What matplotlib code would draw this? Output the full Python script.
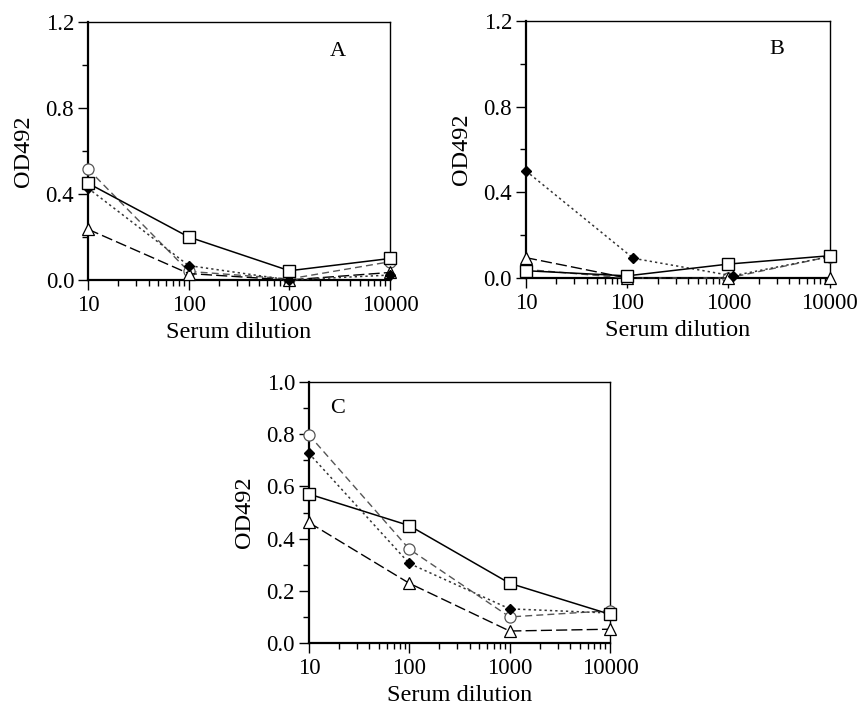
import numpy as np
import matplotlib.pyplot as plt

plt.rcParams['font.family'] = ['Liberation Serif', 'DejaVu Serif']

dilution = [10, 100, 1000, 10000]

# panel A
a_square = [0.45, 0.20, 0.043, 0.10]
a_circle = [0.516, 0.04, 0.005, 0.085]
a_diamond = [0.427, 0.067, 0.0, 0.023]
a_triangle = [0.236, 0.03, 0.0, 0.035]

# panel B
b_square = [0.034, 0.01, 0.065, 0.104]
b_circle = [0.04, 0.0, 0.0, 0.10]
b_diamond = [0.50, 0.092, 0.01, 0.10]
b_diamond_x = [10, 115, 1100, 10000]
b_triangle = [0.095, 0.0, 0.0, 0.0]

# panel C
c_square = [0.571, 0.45, 0.229, 0.11]
c_circle = [0.798, 0.36, 0.10, 0.124]
c_diamond = [0.727, 0.305, 0.131, 0.115]
c_triangle = [0.462, 0.229, 0.046, 0.053]

fig = plt.figure(figsize=(8.58, 7.11), dpi=100)

axA = fig.add_axes([0.1026, 0.6062, 0.352, 0.3629])
axB = fig.add_axes([0.613, 0.609, 0.354, 0.3615])
axC = fig.add_axes([0.360, 0.0956, 0.351, 0.367])


def draw(ax, sq, ci, di, tr, dx=dilution):
    ax.plot(dilution, ci, color='#555555', ls=(0, (5, 3)), lw=1,
            marker='o', ms=8, mfc='white', mec='#555555', mew=0.9, zorder=3)
    ax.plot(dx, di, color='#333333', ls=(0, (1.5, 2)), lw=1.1,
            marker='D', ms=5, mfc='black', mec='black', zorder=4)
    ax.plot(dilution, tr, color='black', ls=(0, (8, 3)), lw=1,
            marker='^', ms=8, mfc='white', mec='black', mew=0.9, zorder=3)
    ax.plot(dilution, sq, color='black', ls='-', lw=1.1,
            marker='s', ms=9, mfc='white', mec='black', mew=1, zorder=5)


def style(ax, ymax, ystep):
    ax.set_xscale('log')
    ax.set_xlim(10, 10000)
    ax.set_ylim(0, ymax)
    ax.set_xticks(dilution)
    ax.set_xticklabels(['10', '100', '1000', '10000'])
    ax.set_yticks(np.arange(0, ymax + 0.01, ystep))
    ax.set_yticks(np.arange(0, ymax + 0.01, ystep / 2), minor=True)
    ax.yaxis.set_major_formatter(plt.FormatStrFormatter('%.1f'))
    ax.tick_params(which='major', length=7, width=1, labelsize=16.5, direction='out', pad=3)
    ax.tick_params(which='minor', length=4, width=1, direction='out')
    ax.tick_params(axis='x', pad=4)
    for s in ['left', 'bottom']:
        ax.spines[s].set_linewidth(1.6)
    for s in ['top', 'right']:
        ax.spines[s].set_linewidth(1.0)
    ax.set_xlabel('Serum dilution', fontsize=17.5, labelpad=4)
    ax.set_ylabel('OD492', fontsize=17.5, labelpad=8)


draw(axA, a_square, a_circle, a_diamond, a_triangle)
draw(axB, b_square, b_circle, b_diamond, b_triangle, dx=b_diamond_x)
draw(axC, c_square, c_circle, c_diamond, c_triangle)

style(axA, 1.2, 0.4)
style(axB, 1.2, 0.4)
style(axC, 1.0, 0.2)

for ax in (axA, axB, axC):
    for line in ax.lines:
        line.set_clip_on(False)

axA.text(0.80, 0.87, 'A', transform=axA.transAxes, fontsize=16)
axB.text(0.80, 0.87, 'B', transform=axB.transAxes, fontsize=16)
axC.text(0.07, 0.88, 'C', transform=axC.transAxes, fontsize=16)

fig.savefig('out.png', dpi=100)
